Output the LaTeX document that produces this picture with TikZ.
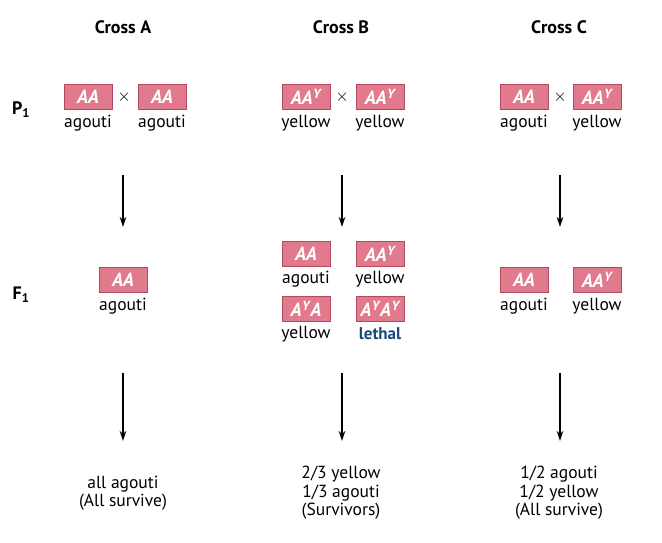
\documentclass[tikz,border=0pt]{standalone}
\usepackage{fontspec}
\setmainfont{PT Sans}
\usetikzlibrary{arrows.meta}

\definecolor{genopink}{RGB}{226,122,142}
\definecolor{genoedge}{RGB}{182,72,94}
\definecolor{lethalblue}{RGB}{24,74,124}

\newcommand{\Ay}{A\textsuperscript{\kern0.5pt Y}}

\tikzset{
  geno/.style={draw=genoedge, fill=genopink, line width=0.6pt, minimum width=48pt,
    minimum height=25pt, inner sep=0pt, text=white,
    font=\fontsize{19}{20}\selectfont\bfseries\itshape},
  pheno/.style={inner sep=0pt, font=\fontsize{17.5}{20}\selectfont},
  heading/.style={font=\fontsize{18}{20}\selectfont\bfseries},
  result/.style={align=center, inner sep=0pt, font=\fontsize{17.5}{18.5}\selectfont},
  down/.style={-{Stealth[length=10pt,width=6.5pt]}, line width=1.3pt}
}

\begin{document}
\begin{tikzpicture}[x=1pt, y=-1pt]
  \useasboundingbox (0,0) rectangle (662,543);

  % headings
  \node[heading] (hA) at (123,27) {Cross A};
  \node[heading] (hB) at (341,27) {Cross B};
  \node[heading] (hC) at (559,27) {Cross C};
  \node[heading] (p1) at (21,110) {P\textsubscript{1}};
  \node[heading] (f1) at (21,295) {F\textsubscript{1}};

  % parents
  \node[geno] (pA1) at (88,97) {AA};
  \node[geno] (pA2) at (162,97) {AA};
  \node (xA) at (124,97) {\fontsize{18}{20}\selectfont$\times$};
  \node[pheno] (lA1) at (88,123) {agouti};
  \node[pheno] (lA2) at (162,123) {agouti};

  \node[geno] (pB1) at (306,97) {A\Ay};
  \node[geno] (pB2) at (380,97) {A\Ay};
  \node (xB) at (342,97) {\fontsize{18}{20}\selectfont$\times$};
  \node[pheno] (lB1) at (306,123) {yellow};
  \node[pheno] (lB2) at (380,123) {yellow};

  \node[geno] (pC1) at (524,97) {AA};
  \node[geno] (pC2) at (597,97) {A\Ay};
  \node (xC) at (560,97) {\fontsize{18}{20}\selectfont$\times$};
  \node[pheno] (lC1) at (524,123) {agouti};
  \node[pheno] (lC2) at (597,123) {yellow};

  % offspring
  \node[geno] (fA) at (123,280) {AA};
  \node[pheno] (mA) at (123,306) {agouti};

  \node[geno] (fB1) at (306,254) {AA};
  \node[geno] (fB2) at (380,254) {A\Ay};
  \node[pheno] (mB1) at (306,279) {agouti};
  \node[pheno] (mB2) at (380,279) {yellow};
  \node[geno] (fB3) at (306,309) {\Ay A};
  \node[geno] (fB4) at (380,309) {\Ay\Ay};
  \node[pheno] (mB3) at (306,334) {yellow};
  \node[pheno, text=lethalblue, font=\fontsize{17}{20}\selectfont\bfseries] (mB4) at (380,334) {lethal};

  \node[geno] (fC1) at (524,280) {AA};
  \node[geno] (fC2) at (597,280) {A\Ay};
  \node[pheno] (mC1) at (524,306) {agouti};
  \node[pheno] (mC2) at (597,306) {yellow};

  % outcomes
  \node[result] (rA) at (123,493) {all agouti\\(All survive)};
  \node[result] (rB) at (341,493) {2/3 yellow\\1/3 agouti\\(Survivors)};
  \node[result] (rC) at (559,493) {1/2 agouti\\1/2 yellow\\(All survive)};

  % arrows
  \coordinate (a1) at (123,175); \coordinate (a2) at (123,227);
  \coordinate (b1) at (342,175); \coordinate (b2) at (342,227);
  \coordinate (c1) at (560,175); \coordinate (c2) at (560,227);
  \coordinate (a3) at (123,373); \coordinate (a4) at (123,441);
  \coordinate (b3) at (342,373); \coordinate (b4) at (342,441);
  \coordinate (c3) at (560,373); \coordinate (c4) at (560,441);
  \draw[down] (a1) -- (a2);
  \draw[down] (b1) -- (b2);
  \draw[down] (c1) -- (c2);
  \draw[down] (a3) -- (a4);
  \draw[down] (b3) -- (b4);
  \draw[down] (c3) -- (c4);
\end{tikzpicture}
\end{document}
